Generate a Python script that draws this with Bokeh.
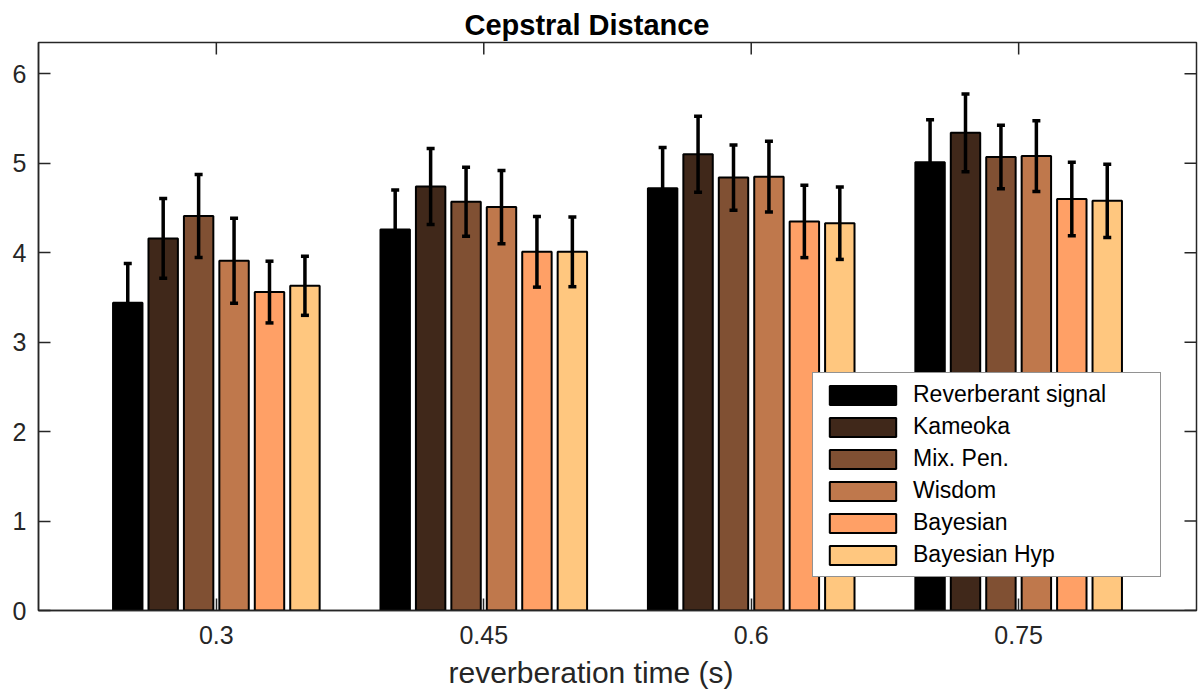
import math
from bokeh.plotting import figure
from bokeh.models import (ColumnDataSource, FixedTicker, Range1d, Whisker,
                          TeeHead, Legend, LegendItem, Title)
from bokeh.transform import dodge
from bokeh.embed import file_html
from bokeh.resources import INLINE

# ---- data ----
tick_labels = ["0.3", "0.45", "0.6", "0.75"]
y_ticks = [0, 1, 2, 3, 4, 5, 6]
methods = ["Reverberant signal", "Kameoka", "Mix. Pen.", "Wisdom", "Bayesian", "Bayesian Hyp"]
colors = ["#000000", "#40281a", "#805033", "#bf784c", "#ffa066", "#ffc77f"]

reverberant = [3.44, 4.26, 4.72, 5.01]
kameoka = [4.16, 4.74, 5.10, 5.34]
mixpen = [4.41, 4.57, 4.84, 5.07]
wisdom = [3.91, 4.51, 4.85, 5.08]
bayesian = [3.56, 4.01, 4.35, 4.60]
bayesian_hyp = [3.63, 4.01, 4.33, 4.58]

err_reverberant = [0.44, 0.44, 0.455, 0.475]
err_kameoka = [0.445, 0.425, 0.425, 0.435]
err_mixpen = [0.465, 0.385, 0.365, 0.355]
err_wisdom = [0.475, 0.41, 0.395, 0.395]
err_bayesian = [0.345, 0.395, 0.405, 0.41]
err_bayesian_hyp = [0.33, 0.39, 0.405, 0.41]

values = [reverberant, kameoka, mixpen, wisdom, bayesian, bayesian_hyp]
errors = [err_reverberant, err_kameoka, err_mixpen, err_wisdom, err_bayesian, err_bayesian_hyp]
group_pos = [1, 2, 3, 4]

FONT = "Liberation Sans"
AX = "#262626"

p = figure(width=1203, height=695, output_backend="svg", toolbar_location=None,
           x_range=Range1d(0.335, 4.665), y_range=Range1d(0, 6.35),
           min_border_left=38, min_border_right=7, min_border_top=42, min_border_bottom=85)

p.title.text = "Cepstral Distance"
p.title.text_font = FONT
p.title.text_font_size = "29px"
p.title.text_font_style = "bold"
p.title.text_color = "#000000"
p.title.align = "left"
p.title.offset = 426
p.title.standoff = 3

spacing = 0.1325
width = 0.11
items = []
for i, (name, col, vals, errs) in enumerate(zip(methods, colors, values, errors)):
    off = (i - 2.5) * spacing
    src = ColumnDataSource(dict(
        x=group_pos, top=vals,
        lo=[v - e for v, e in zip(vals, errs)],
        hi=[v + e for v, e in zip(vals, errs)],
    ))
    r = p.vbar(x=dodge("x", off, range=p.x_range), top="top", bottom=0, width=width,
               source=src, fill_color=col, line_color="#000000", line_width=2)
    items.append(LegendItem(label=name, renderers=[r]))
    w = Whisker(source=src, base=dodge("x", off, range=p.x_range), lower="lo", upper="hi",
                line_color="#000000", line_width=3.5, level="overlay",
                upper_head=TeeHead(size=8, line_width=3.5, line_color="#000000"),
                lower_head=TeeHead(size=8, line_width=3.5, line_color="#000000"))
    p.add_layout(w)

# mirrored inward ticks on the right and top edges of the box
p.ray(x=p.x_range.end, y=y_ticks, length=12, length_units="screen", angle=math.pi,
      line_color=AX, line_width=1.5)
p.ray(x=group_pos, y=p.y_range.end, length=12, length_units="screen", angle=-math.pi / 2,
      line_color=AX, line_width=1.5)

legend = Legend(items=items, location=(774, 33), orientation="vertical",
                label_text_font=FONT, label_text_font_size="23px", label_text_color="#000000",
                glyph_width=83, glyph_height=24, label_height=24, label_width=239,
                label_standoff=9, spacing=5, padding=8, margin=0,
                border_line_color=AX, border_line_width=1.5, background_fill_alpha=1)
p.add_layout(legend, "center")

p.grid.visible = False
p.outline_line_color = AX
p.outline_line_width = 1.5

p.xaxis.ticker = FixedTicker(ticks=group_pos)
p.xaxis.major_label_overrides = {g: t for g, t in zip(group_pos, tick_labels)}
p.yaxis.ticker = FixedTicker(ticks=y_ticks)

for ax in [p.xaxis[0], p.yaxis[0]]:
    ax.major_tick_in = 12
    ax.major_tick_out = 0
    ax.minor_tick_line_color = None
    ax.axis_line_color = AX
    ax.axis_line_width = 1.5
    ax.major_tick_line_color = AX
    ax.major_tick_line_width = 1.5
    ax.major_label_text_font = FONT
    ax.major_label_text_font_size = "25px"
    ax.major_label_text_color = AX

p.xaxis.major_label_standoff = 15
p.yaxis.major_label_standoff = 12

xlabel = Title(text="reverberation time (s)", align="left", offset=410,
               text_font=FONT, text_font_size="30px", text_font_style="normal",
               text_color=AX, standoff=14)
p.add_layout(xlabel, "below")

open("out.html", "w").write(file_html(p, INLINE))
